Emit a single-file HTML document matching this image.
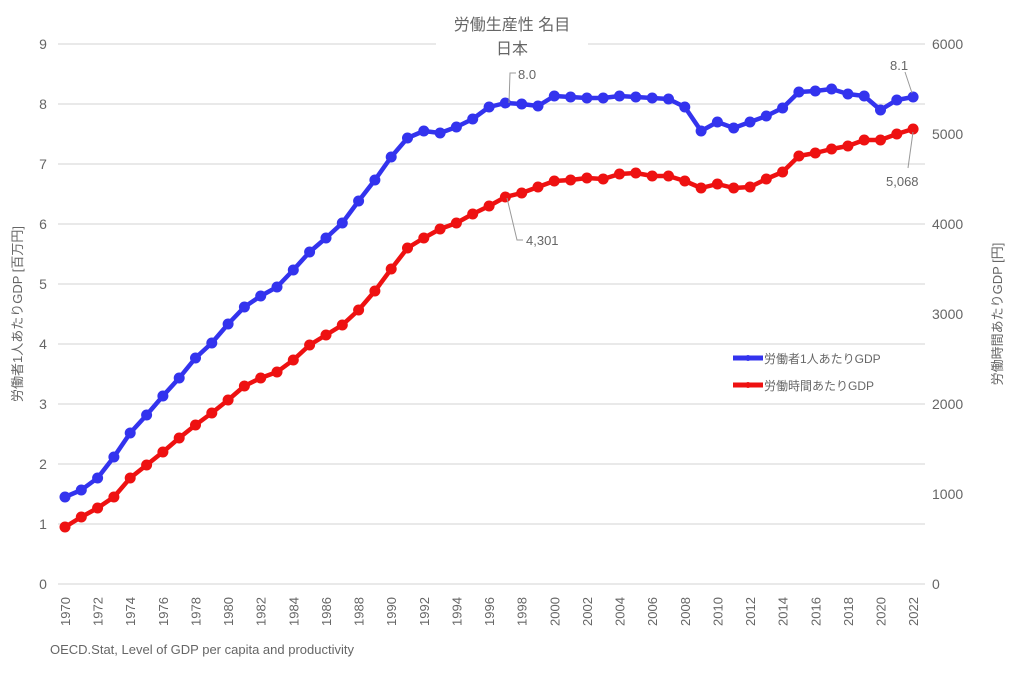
<!DOCTYPE html>
<html><head><meta charset="utf-8"><style>
html,body{margin:0;padding:0;background:#fff;}
svg text{font-family:"Liberation Sans","Noto Sans CJK JP",sans-serif;fill:#666;}
</style></head><body>
<svg id="c" width="1024" height="668" xmlns="http://www.w3.org/2000/svg">
<g id="grid" stroke="#dcdcdc" stroke-width="1.2"></g>
<g id="lab" font-size="14"></g>
<text x="512" y="30" font-size="16" text-anchor="middle">労働生産性 名目</text>
<text x="512" y="54" font-size="16" text-anchor="middle">日本</text>
<text transform="translate(22,314) rotate(-90)" font-size="13" text-anchor="middle">労働者1人あたりGDP [百万円]</text>
<text transform="translate(1002,314) rotate(-90)" font-size="13" text-anchor="middle">労働時間あたりGDP [円]</text>
<text x="50" y="654" font-size="13">OECD.Stat, Level of GDP per capita and productivity</text>
<g id="ser"></g>
<g stroke="#999" stroke-width="1" fill="none">
<polyline points="509,103 510,73 516,73"/>
<polyline points="507,198 517,240 523,240"/>
<line x1="905" y1="72" x2="912" y2="93"/>
<line x1="913" y1="132" x2="908" y2="168"/>
</g>
<text x="518" y="79" font-size="13">8.0</text>
<text x="526" y="245" font-size="13">4,301</text>
<text x="890" y="70" font-size="13">8.1</text>
<text x="886" y="186" font-size="13">5,068</text>
<line x1="733" y1="358" x2="763" y2="358" stroke="#3333ee" stroke-width="5"/>
<circle cx="748" cy="358" r="3" fill="#3333ee"/>
<text x="764" y="363" font-size="12">労働者1人あたりGDP</text>
<line x1="733" y1="385" x2="763" y2="385" stroke="#ee1111" stroke-width="5"/>
<circle cx="748" cy="385" r="3" fill="#ee1111"/>
<text x="764" y="390" font-size="12">労働時間あたりGDP</text>
</svg>
<script>
var ns="http://www.w3.org/2000/svg";
function el(p,t,a,txt){var e=document.createElementNS(ns,t);for(var k in a)e.setAttribute(k,a[k]);if(txt!==undefined)e.textContent=txt;document.getElementById(p).appendChild(e);return e;}
for(var i=0;i<=9;i++){var y=584-60*i;
 if(i==9){el('grid','line',{x1:58,y1:y,x2:436,y2:y});el('grid','line',{x1:588,y1:y,x2:925,y2:y});}
 else el('grid','line',{x1:58,y1:y,x2:925,y2:y});
 el('lab','text',{x:43,y:y+5,'text-anchor':'middle'},String(i));
 if(i%1.5===0){}
}
for(var j=0;j<=6;j++){var y=584-90*j;el('lab','text',{x:932,y:y+5},String(j*1000));}
for(var yr=1970;yr<=2022;yr+=2){var x=65+(yr-1970)*16.31;
 el('lab','text',{transform:'translate('+(x+5)+',626) rotate(-90)','font-size':13},String(yr));}
var B=[497,490,478,457,433,415,396,378,358,343,324,307,296,287,270,252,238,223,201,180,157,138,131,133,127,119,107,103,104,106,96,97,98,98,96,97,98,99,107,131,122,128,122,116,108,92,91,89,94,96,110,100,97];
var R=[527,517,508,497,478,465,452,438,425,413,400,386,378,372,360,345,335,325,310,291,269,248,238,229,223,214,206,197,193,187,181,180,178,179,174,173,176,176,181,188,184,188,187,179,172,156,153,149,146,140,140,134,129];
function ser(d,c){var pts=d.map(function(y,i){return (65+i*16.31).toFixed(1)+','+y;}).join(' ');
 el('ser','polyline',{points:pts,fill:'none',stroke:c,'stroke-width':4.5,'stroke-linejoin':'round'});
 d.forEach(function(y,i){el('ser','circle',{cx:(65+i*16.31).toFixed(1),cy:y,r:5.5,fill:c});});}
ser(R,'#ee1111');ser(B,'#3333ee');
</script>
</body></html>
